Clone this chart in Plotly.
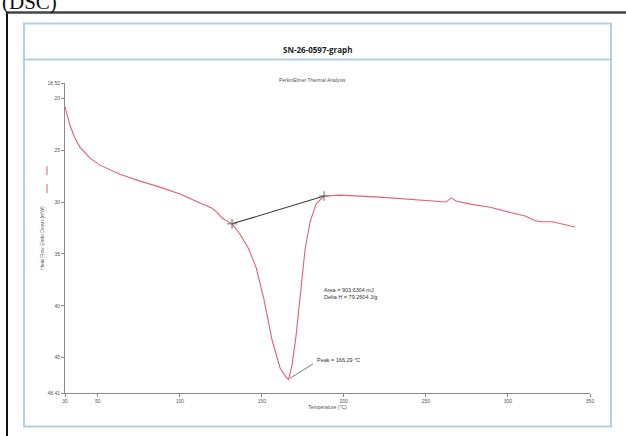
import plotly.graph_objects as go

# DSC scan: temperature (°C) vs heat flow (mW)
temperature = [30, 31.2, 33, 36.1, 39.1, 45.2, 51.3, 63.5, 75.7, 87.9, 100.1, 112.3,
               119.6, 122.7, 125.7, 131.8, 136.7, 141.6, 146.5, 151.3, 156.2, 161.1,
               164.8, 166.29, 168.4, 170.9, 173.3, 176.3, 179.4, 183.0, 187.9, 197.7,
               222.1, 246.5, 258.7, 262.3, 265.4, 268.4, 277, 289.1, 301.3, 310.5,
               316.6, 320.9, 327, 334.9, 341]
heat_flow = [20.8, 21.63, 22.6, 23.85, 24.7, 25.77, 26.44, 27.31, 27.98, 28.56, 29.23,
             30.1, 30.6, 31.0, 31.54, 32.1, 33.1, 34.4, 36.3, 39.4, 43.3, 46.0, 46.9,
             47.1, 45.7, 42.8, 38.9, 34.6, 31.9, 30.2, 29.42, 29.33, 29.52, 29.8, 29.9,
             30.0, 29.6, 29.9, 30.2, 30.5, 31.0, 31.35, 31.8, 31.9, 31.9, 32.2, 32.4]

# Integration baseline end points (onset / end of the melting peak)
base_t = [131.8, 187.9]
base_hf = [32.1, 29.42]

peak_t = 166.29
peak_hf = 47.1

x_ticks = [30, 50, 100, 150, 200, 250, 300, 350]
y_ticks = [18.52, 20, 25, 30, 35, 40, 45, 48.41]
y_tick_text = ["18.52", "20", "25", "30", "35", "40", "45", "48.41"]

W, H = 626, 436
L, R, T, B = 65, 590, 82.6, 393.5


def px(x):
    return (x - L) / (R - L)


def py(y):
    return (B - y) / (B - T)


fig = go.Figure()
fig.add_trace(go.Scatter(x=temperature, y=heat_flow, mode="lines",
                         line=dict(color="#e0626c", width=1.1), hoverinfo="skip"))
fig.add_trace(go.Scatter(x=base_t, y=base_hf, mode="lines+markers",
                         line=dict(color="#3a3a3a", width=1.1),
                         marker=dict(symbol="cross-thin", size=7,
                                     line=dict(color="#666666", width=1)),
                         hoverinfo="skip"))

ax_font = dict(family="Liberation Sans, Arial", size=5, color="#555555")

fig.update_xaxes(range=[30, 350], tickvals=x_ticks, showline=True, linecolor="#8a8a8a",
                 linewidth=1, ticks="outside", ticklen=3, tickcolor="#8a8a8a",
                 showgrid=False, zeroline=False, tickfont=ax_font,
                 title=dict(text="Temperature (°C)", font=ax_font, standoff=2))
fig.update_yaxes(range=[48.41, 18.52], tickvals=y_ticks, ticktext=y_tick_text,
                 showline=True, linecolor="#8a8a8a", linewidth=1, ticks="outside",
                 ticklen=3, tickcolor="#8a8a8a", showgrid=False, zeroline=False,
                 tickfont=ax_font,
                 title=dict(text="Heat Flow Endo Down (mW)", font=ax_font, standoff=2))

shapes = [
    # outer black frame (left edge and top rule)
    dict(type="line", xref="paper", yref="paper", x0=px(7), x1=px(7), y0=py(12), y1=py(440),
         line=dict(color="#111111", width=2)),
    dict(type="line", xref="paper", yref="paper", x0=px(6), x1=px(630), y0=py(12), y1=py(12),
         line=dict(color="#444444", width=2.5)),
    # light blue report panel
    dict(type="rect", xref="paper", yref="paper", x0=px(24), x1=px(611), y0=py(427), y1=py(23),
         line=dict(color="#b3cfe3", width=2)),
    dict(type="line", xref="paper", yref="paper", x0=px(24), x1=px(611), y0=py(59), y1=py(59),
         line=dict(color="#b3cfe3", width=2)),
    # legend swatch beside the y title
    dict(type="line", xref="paper", yref="paper", x0=px(47), x1=px(47), y0=py(166), y1=py(199),
         line=dict(color="#e0626c", width=1, dash="dash")),
    # leader line to the peak
    dict(type="line", xref="x", yref="y", x0=181.2, y0=45.6, x1=peak_t + 0.8, y1=peak_hf - 0.1,
         line=dict(color="#555555", width=0.8)),
]

annotations = [
    dict(text="(DSC)", xref="paper", yref="paper", x=px(0), y=py(15), xanchor="left",
         yanchor="bottom", showarrow=False,
         font=dict(family="Liberation Serif", size=21, color="#111111")),
    dict(text="<b>SN-26-0597-graph</b>", xref="paper", yref="paper", x=px(317), y=py(41),
         showarrow=False, font=dict(family="Open Sans, Liberation Sans", size=8, color="#222222")),
    dict(text="PerkinElmer Thermal Analysis", xref="paper", yref="paper", x=px(312), y=py(75),
         showarrow=False, font=dict(family="Liberation Sans", size=5, color="#555555")),
    dict(text="Area = 903.6304 mJ<br>Delta H = 79.2604 J/g", xref="x", yref="y",
         x=186.7, y=38.85, xanchor="left", align="left", showarrow=False,
         font=dict(family="Liberation Sans", size=5.5, color="#333333")),
    dict(text=f"Peak = {peak_t} °C", xref="x", yref="y", x=182.4, y=45.2, xanchor="left",
         showarrow=False, font=dict(family="Liberation Sans", size=5.5, color="#333333")),
]

fig.update_layout(width=W, height=H, margin=dict(l=L, r=W - R, t=T, b=H - B),
                  paper_bgcolor="white", plot_bgcolor="white", showlegend=False,
                  shapes=shapes, annotations=annotations)

fig.write_html("out.html")
